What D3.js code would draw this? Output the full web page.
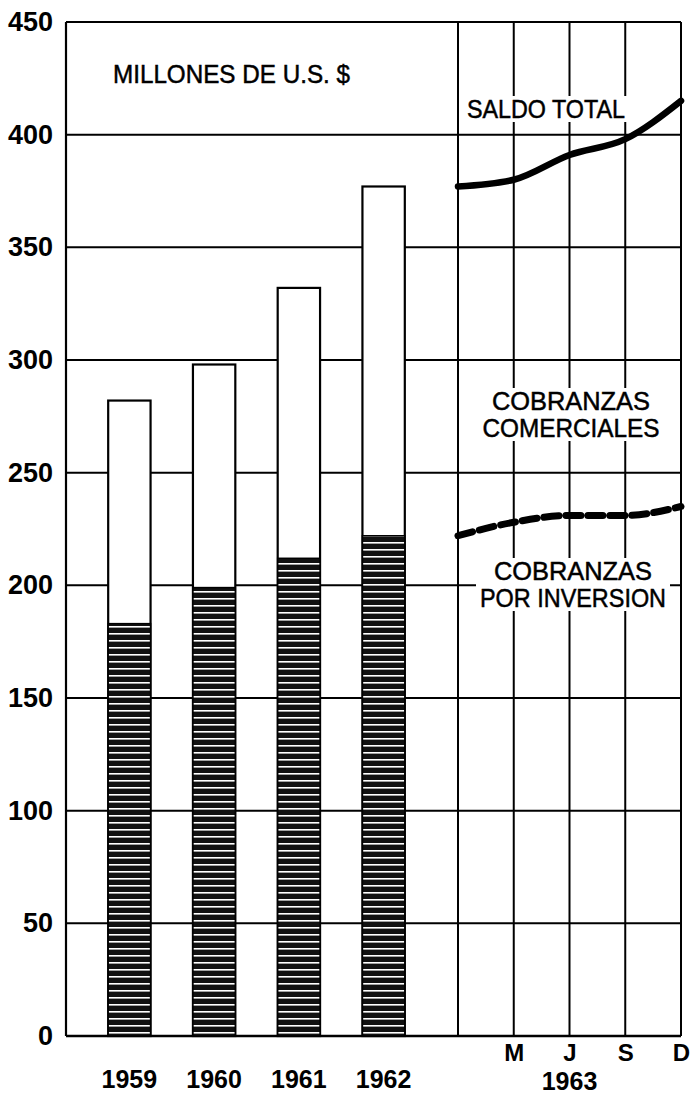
<!DOCTYPE html>
<html>
<head>
<meta charset="utf-8">
<script src="https://cdn.jsdelivr.net/npm/d3@7"></script>
<style>
  body { margin: 0; background: #fff; }
  svg { display: block; }
</style>
</head>
<body>
<div id="chart"></div>
<script>
var wt = 691;
var ht = 1095;

// annual data, millions of US $
var years = ["1959", "1960", "1961", "1962"];
var saldoAnual = [282, 298, 332, 377];
var inversionAnual = [183, 199, 212, 222];

// 1963 quarterly (first point = Dec 1962)
var periodos = ["D62", "M", "J", "S", "D"];
var saldoTotal = [377, 380, 391, 398, 415];
var porInversion = [222, 228, 231, 231, 235];
var mesLabels = ["M", "J", "S", "D"];

var yTicks = d3.range(0, 451, 50);

var plotL = 66, plotR = 681, plotT = 22, plotB = 1036, split = 458;

var svg = d3.select("#chart").append("svg")
    .attr("width", wt)
    .attr("height", ht);

var defs = svg.append("defs");
var pat = defs.append("pattern")
    .attr("id", "hatch")
    .attr("patternUnits", "userSpaceOnUse")
    .attr("width", 8)
    .attr("height", 7);
pat.append("rect").attr("width", 8).attr("height", 7).attr("fill", "#111");
pat.append("rect").attr("y", 3).attr("width", 8).attr("height", 1.6).attr("fill", "#fff");

var y = d3.scaleLinear()
    .domain([0, 450])
    .range([plotB, plotT]);

var x = d3.scaleBand()
    .domain(years)
    .range([87, 426])
    .paddingInner(0.5)
    .paddingOuter(0.25);

var xq = d3.scalePoint()
    .domain(periodos)
    .range([split, plotR]);

// horizontal grid
svg.append("g").selectAll("line")
    .data(yTicks)
    .enter().append("line")
    .attr("x1", plotL)
    .attr("x2", plotR)
    .attr("y1", function (d) { return y(d); })
    .attr("y2", function (d) { return y(d); })
    .attr("stroke", "#000")
    .attr("stroke-width", function (d) { return d === 0 ? 2.6 : 2; });

// vertical grid of 1963 section
svg.append("g").selectAll("line")
    .data(periodos)
    .enter().append("line")
    .attr("x1", function (d) { return xq(d); })
    .attr("x2", function (d) { return xq(d); })
    .attr("y1", plotT)
    .attr("y2", plotB)
    .attr("stroke", "#000")
    .attr("stroke-width", 2);

// left axis line
svg.append("line")
    .attr("x1", plotL).attr("x2", plotL)
    .attr("y1", plotT).attr("y2", plotB)
    .attr("stroke", "#000")
    .attr("stroke-width", 2.2);

// bars: total
var bars = svg.append("g");
bars.selectAll(".total")
    .data(years)
    .enter().append("rect")
    .attr("class", "total")
    .attr("x", function (d) { return x(d); })
    .attr("width", x.bandwidth())
    .attr("y", function (d, i) { return y(saldoAnual[i]); })
    .attr("height", function (d, i) { return y(0) - y(saldoAnual[i]); })
    .attr("fill", "#fff")
    .attr("stroke", "#000")
    .attr("stroke-width", 2.2);

// bars: por inversion (hatched)
bars.selectAll(".inv")
    .data(years)
    .enter().append("rect")
    .attr("class", "inv")
    .attr("x", function (d) { return x(d); })
    .attr("width", x.bandwidth())
    .attr("y", function (d, i) { return y(inversionAnual[i]); })
    .attr("height", function (d, i) { return y(0) - y(inversionAnual[i]); })
    .attr("fill", "url(#hatch)")
    .attr("stroke", "#000")
    .attr("stroke-width", 1.5);

// text labels with white background
var font = "'Liberation Sans', sans-serif";
var notes = [
    { lines: ["MILLONES DE U.S. $"], w: [237], x: 113, y: 83, anchor: "start", bg: false },
    { lines: ["SALDO TOTAL"], w: [158], x: 546, y: 118, anchor: "middle", bg: true },
    { lines: ["COBRANZAS", "COMERCIALES"], w: [158, 177], x: 571, y: 410, anchor: "middle", bg: true },
    { lines: ["COBRANZAS", "POR INVERSION"], w: [158, 186], x: 573, y: 580, anchor: "middle", bg: true }
];
notes.forEach(function (n) {
    var g = svg.append("g");
    var t = g.append("text")
        .attr("font-family", font)
        .attr("font-size", 26)
        .attr("fill", "#000")
        .attr("stroke", "#000")
        .attr("stroke-width", 0.5)
        .attr("text-anchor", n.anchor);
    n.lines.forEach(function (l, i) {
        t.append("tspan")
            .attr("x", n.x)
            .attr("y", n.y + i * 27)
            .attr("textLength", n.w[i])
            .attr("lengthAdjust", "spacingAndGlyphs")
            .text(l);
    });
    if (n.bg) {
        var b = t.node().getBBox();
        g.insert("rect", "text")
            .attr("x", b.x - 4)
            .attr("y", b.y + 2)
            .attr("width", b.width + 8)
            .attr("height", b.height - 4)
            .attr("fill", "#fff");
    }
});

// 1963 lines
var line = d3.line()
    .x(function (d, i) { return xq(periodos[i]); })
    .y(function (d) { return y(d); })
    .curve(d3.curveMonotoneX);

svg.append("path")
    .datum(saldoTotal)
    .attr("d", line)
    .attr("fill", "none")
    .attr("stroke", "#000")
    .attr("stroke-width", 6.5)
    .attr("stroke-linecap", "round");

svg.append("path")
    .datum(porInversion)
    .attr("d", line)
    .attr("fill", "none")
    .attr("stroke", "#000")
    .attr("stroke-width", 7)
    .attr("stroke-dasharray", "15,7")
    .attr("stroke-linecap", "round");

// y axis labels
var yAxis = svg.append("g")
    .attr("transform", "translate(" + plotL + ",0)")
    .call(d3.axisLeft(y).tickValues(yTicks).tickSize(0).tickPadding(13));
yAxis.select(".domain").remove();
yAxis.selectAll("text")
    .attr("font-family", font)
    .attr("font-weight", "bold")
    .attr("font-size", 27)
    .attr("fill", "#000");

// year labels
var xAxis = svg.append("g")
    .attr("transform", "translate(0," + plotB + ")")
    .call(d3.axisBottom(x).tickSize(0).tickPadding(34));
xAxis.select(".domain").remove();
xAxis.selectAll("text")
    .attr("font-family", font)
    .attr("font-weight", "bold")
    .attr("font-size", 25)
    .attr("fill", "#000");

// month labels
var mAxis = svg.append("g")
    .attr("transform", "translate(0," + plotB + ")")
    .call(d3.axisBottom(xq).tickValues(mesLabels).tickSize(0).tickPadding(8));
mAxis.select(".domain").remove();
mAxis.selectAll("text")
    .attr("font-family", font)
    .attr("font-weight", "bold")
    .attr("font-size", 24)
    .attr("fill", "#000");

svg.append("text")
    .attr("x", xq("J"))
    .attr("y", 1090)
    .attr("text-anchor", "middle")
    .attr("font-family", font)
    .attr("font-weight", "bold")
    .attr("font-size", 25)
    .text("1963");
</script>
</body>
</html>
